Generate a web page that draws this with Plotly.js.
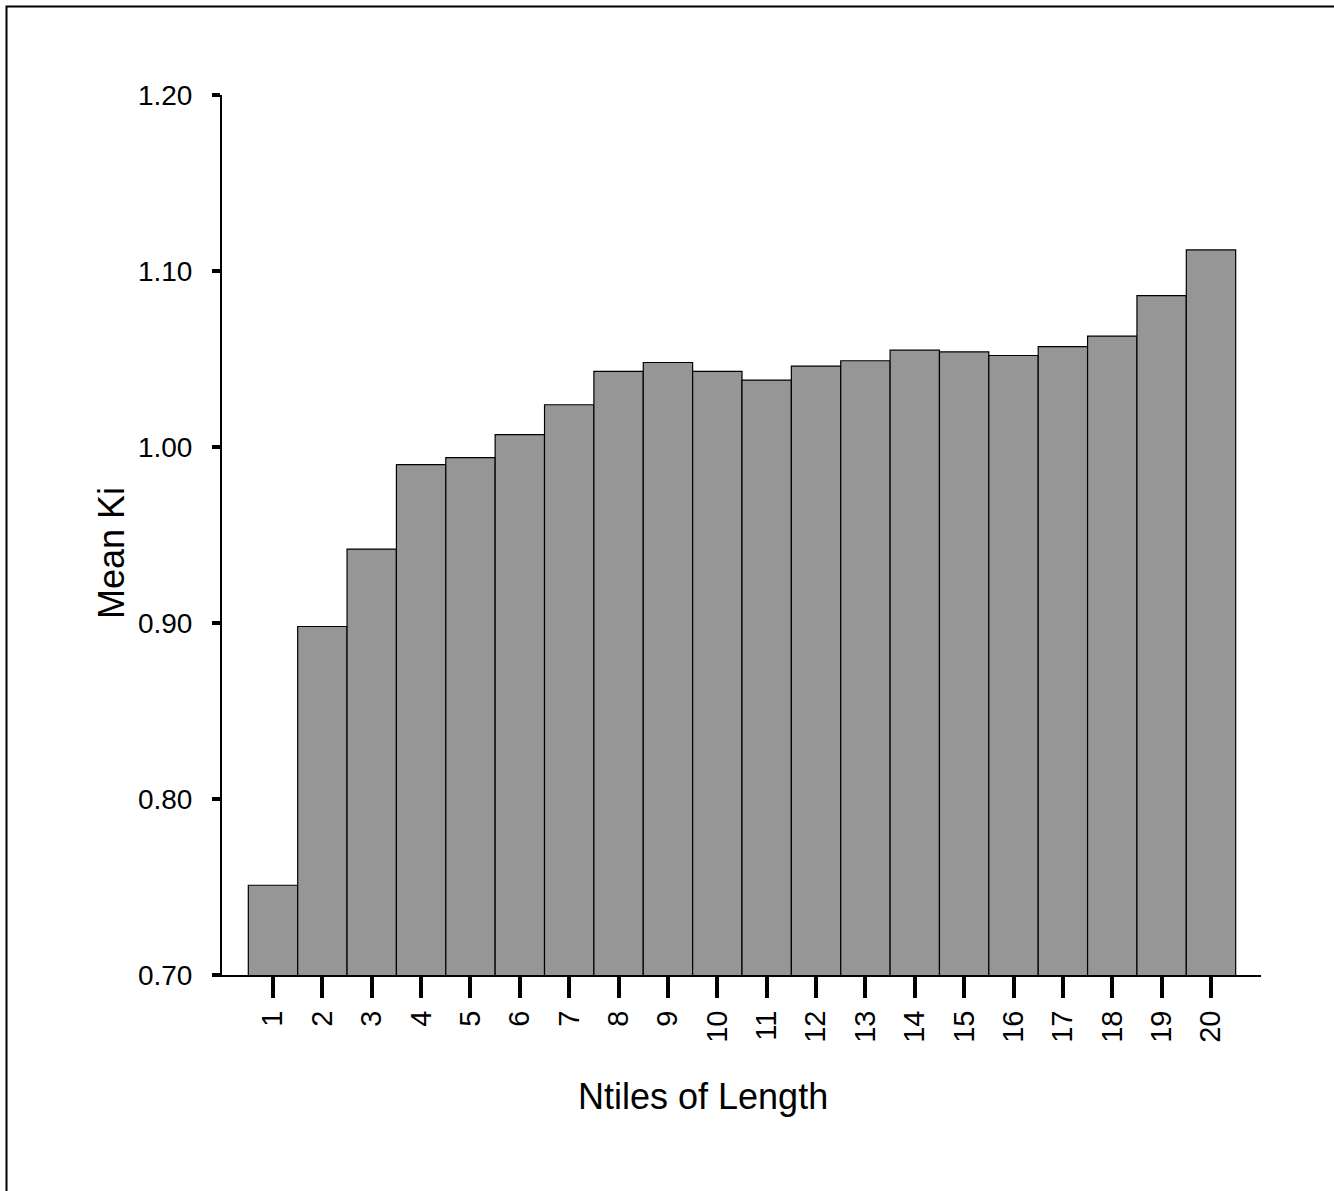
<!DOCTYPE html>
<html>
<head>
<meta charset="utf-8">
<script src="https://cdn.plot.ly/plotly-3.0.1.min.js"></script>
<style>
html,body{margin:0;padding:0;background:#fff;}
#chart{width:1334px;height:1191px;}
</style>
</head>
<body>
<div id="chart"></div>
<script>
const ntiles = [1,2,3,4,5,6,7,8,9,10,11,12,13,14,15,16,17,18,19,20];
const meanKi = [0.751,0.898,0.942,0.990,0.994,1.007,1.024,1.043,1.048,1.043,1.038,1.046,1.049,1.055,1.054,1.052,1.057,1.063,1.086,1.112];
const yTicks = [0.70,0.80,0.90,1.00,1.10,1.20];
const yTickText = ["0.70","0.80","0.90","1.00","1.10","1.20"];
const xTickText = ntiles.map(String);
const xTitle = 'Ntiles of Length';
const yTitle = 'Mean Ki';

const font = "Liberation Sans, Arial, Helvetica, sans-serif";

const trace = {
  type: 'bar',
  x: ntiles,
  y: meanKi,
  marker: {color: '#969696', line: {color: '#000', width: 1.2}},
  hoverinfo: 'x+y'
};

const layout = {
  width: 1334,
  height: 1191,
  margin: {l: 222, r: 73, t: 95, b: 216},
  paper_bgcolor: '#fff',
  plot_bgcolor: '#fff',
  bargap: 0,
  showlegend: false,
  font: {family: font, color: '#000', size: 28},
  xaxis: {
    range: [-0.033, 21.013],
    tickvals: ntiles,
    ticktext: xTickText,
    tickangle: -90,
    ticks: 'outside',
    ticklen: 21,
    tickwidth: 4,
    tickcolor: '#000',
    ticklabelstandoff: 1,
    showline: true,
    linecolor: '#000',
    linewidth: 2,
    showgrid: false,
    zeroline: false,
    tickfont: {size: 29, family: font}
  },
  yaxis: {
    range: [0.70, 1.20],
    tickvals: yTicks,
    ticktext: yTickText,
    ticks: 'outside',
    ticklen: 8,
    tickwidth: 4,
    tickcolor: '#000',
    ticklabelstandoff: 14,
    showline: true,
    linecolor: '#000',
    linewidth: 2,
    showgrid: false,
    zeroline: false,
    tickfont: {size: 28, family: font}
  },
  annotations: [
    {text: xTitle, xref: 'paper', yref: 'paper', x: 0.463, y: -0.1386,
     xanchor: 'center', yanchor: 'middle', showarrow: false,
     font: {size: 36, family: font, color: '#000'}},
    {text: yTitle, xref: 'paper', yref: 'paper', x: -0.1068, y: 0.4795,
     xanchor: 'center', yanchor: 'middle', showarrow: false, textangle: -90,
     font: {size: 36, family: font, color: '#000'}}
  ],
  shapes: [{
    type: 'rect', xref: 'paper', yref: 'paper',
    x0: -0.2074, x1: 1.3, y0: -0.4, y1: 1.1006,
    line: {color: '#000', width: 2}, fillcolor: 'rgba(0,0,0,0)', layer: 'above'
  }]
};

Plotly.newPlot('chart', [trace], layout, {displayModeBar: false, staticPlot: true});
</script>
</body>
</html>
